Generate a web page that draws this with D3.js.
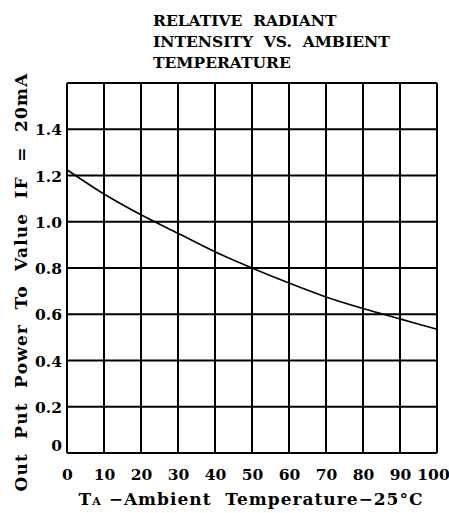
<!DOCTYPE html>
<html><head><meta charset="utf-8">
<script src="https://cdn.jsdelivr.net/npm/d3@7"></script>
<style>body{margin:0;background:#fff}</style>
</head><body>
<svg id="c" width="449" height="513"></svg>
<script>
const titleLines = ["RELATIVE  RADIANT", "INTENSITY  VS.  AMBIENT", "TEMPERATURE"];
const xTicks = [0,10,20,30,40,50,60,70,80,90,100];
const yTicks = [0,0.2,0.4,0.6,0.8,1.0,1.2,1.4];
const temps = [0,10,20,30,40,50,60,70,80,90,100];
const intensity = [1.225,1.12,1.03,0.95,0.87,0.80,0.735,0.675,0.625,0.58,0.535];

const svg = d3.select("#c");
const m = {l:67, r:437, t:83, b:453};
const x = d3.scaleLinear().domain([0,100]).range([m.l,m.r]);
const y = d3.scaleLinear().domain([0,1.6]).range([m.b,m.t]);
const serif = "'DejaVu Serif', serif";

const g = svg.append("g");
g.selectAll(".vx").data(d3.range(0,101,10)).join("line")
 .attr("x1",d=>x(d)).attr("x2",d=>x(d)).attr("y1",m.t).attr("y2",m.b)
 .attr("stroke","#000").attr("stroke-width",2);
g.selectAll(".hy").data(d3.range(0,1.61,0.2)).join("line")
 .attr("y1",d=>y(d)).attr("y2",d=>y(d)).attr("x1",m.l).attr("x2",m.r)
 .attr("stroke","#000").attr("stroke-width",2);

const xa = svg.append("g").attr("transform",`translate(0,${m.b})`)
 .call(d3.axisBottom(x).tickValues(xTicks).tickSize(0).tickPadding(0).tickFormat(d3.format("d")));
xa.select(".domain").remove();
xa.selectAll("text").attr("font-family",serif).attr("font-weight","bold").attr("font-size",15.5).attr("fill","#000")
 .attr("dy",null).attr("y",27)
 .attr("dx",d=>d===100?"-4":"0");

const ya = svg.append("g").attr("transform",`translate(${m.l},0)`)
 .call(d3.axisLeft(y).tickValues(yTicks).tickSize(0).tickPadding(5).tickFormat(d=>d===0?"0":d3.format(".1f")(d)));
ya.select(".domain").remove();
ya.selectAll("text").attr("font-family",serif).attr("font-weight","bold").attr("font-size",15.5).attr("fill","#000")
 .attr("dy",d=>d===0?"-0.15em":"0.36em");

const line = d3.line().x((d,i)=>x(temps[i])).y(d=>y(d)).curve(d3.curveMonotoneX);
svg.append("path").datum(intensity).attr("d",line).attr("fill","none").attr("stroke","#000").attr("stroke-width",1.6);

svg.append("g").selectAll("text").data(titleLines).join("text")
 .attr("x",153).attr("y",(d,i)=>26+i*21).text(d=>d)
 .attr("font-family",serif).attr("font-weight","bold").attr("font-size",15.5).attr("fill","#000").style("white-space","pre");

svg.append("text").attr("transform","translate(27,282) rotate(-90)").attr("text-anchor","middle")
 .attr("font-family",serif).attr("font-weight","bold").attr("font-size",17).attr("fill","#000")
 .style("white-space","pre").attr("letter-spacing",1.2)
 .text("Out  Put  Power  To  Value  IF  =  20mA");

const xt = svg.append("text").attr("x",251).attr("y",505).attr("text-anchor","middle")
 .attr("font-family",serif).attr("font-weight","bold").attr("font-size",17).attr("fill","#000")
 .style("white-space","pre").attr("letter-spacing",1);
xt.append("tspan").text("T");
xt.append("tspan").attr("font-size",11).text("A");
xt.append("tspan").text(" \u2212Ambient  Temperature\u221225\u00b0C");
</script>
</body></html>
